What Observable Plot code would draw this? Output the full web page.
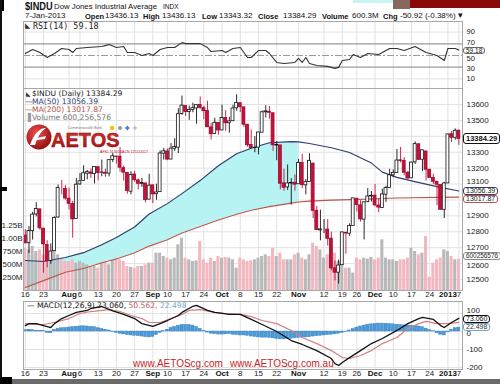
<!DOCTYPE html>
<html><head><meta charset="utf-8">
<script src="https://cdn.jsdelivr.net/npm/d3@7"></script>
<script src="https://cdn.jsdelivr.net/npm/@observablehq/plot@0.6"></script>
<style>
body{margin:0;background:#fff;}
#wrap{position:relative;width:500px;height:384px;overflow:hidden;background:#fff;font-family:"Liberation Sans",Arial,sans-serif;color:#111;}
#wrap svg{position:absolute;left:0;background:transparent !important;overflow:visible;}
.t{position:absolute;white-space:nowrap;line-height:1;}
.tag{position:absolute;left:463px;padding:0 2px;background:#fff;border:1px solid #555;border-radius:3px;white-space:nowrap;font-family:"Liberation Sans",Arial,sans-serif;}
.deco{position:absolute;}
</style></head><body><div id="wrap"></div>
<script>
// ---------- DATA ----------
const tradingDays = [
  ["2012-07",[16,17,18,19,20,23,24,25,26,27,30,31]],
  ["2012-08",[1,2,3,6,7,8,9,10,13,14,15,16,17,20,21,22,23,24,27,28,29,30,31]],
  ["2012-09",[4,5,6,7,10,11,12,13,14,17,18,19,20,21,24,25,26,27,28]],
  ["2012-10",[1,2,3,4,5,8,9,10,11,12,15,16,17,18,19,22,23,24,25,26,31]],
  ["2012-11",[1,2,5,6,7,8,9,12,13,14,15,16,19,20,21,23,26,27,28,29,30]],
  ["2012-12",[3,4,5,6,7,10,11,12,13,14,17,18,19,20,21,24,26,27,28,31]],
  ["2013-01",[2,3,4,7]]
];
const open = [12776,12728,12804,12909,12941,12820,12717,12617,12678,12890,
13073,13070,13008,12974,12880,13098,13119,13165,13173,13163,
13206,13171,13171,13166,13251,13273,13272,13200,13170,13052,
13160,13123,13101,13104,13002,13092,13036,13049,13291,13305,
13254,13322,13329,13540,13591,13552,13565,13575,13597,13577,
13559,13456,13414,13484,13437,13515,13482,13495,13576,13608,
13582,13473,13346,13327,13329,13423,13551,13555,13545,13342,
13343,13104,13079,13103,13108,13099,13232,13092,13113,13229,
12932,12809,12815,12814,12757,12570,12543,12590,12794,12788,
12837,13008,12966,12876,12986,13022,13027,12965,12950,13033,
13075,13155,13170,13249,13246,13171,13136,13236,13350,13253,
13305,13190,13138,13114,13095,12938,13104,13413,13391,13436];
const high = [12813,12833,12922,12983,12941,12820,12744,12724,12894,13094,
13123,13091,13074,12991,13135,13166,13215,13185,13195,13208,
13206,13251,13194,13254,13292,13274,13330,13213,13170,13178,
13180,13132,13135,13104,13161,13092,13099,13308,13324,13320,
13354,13385,13573,13653,13591,13590,13609,13597,13648,13590,
13621,13480,13513,13485,13596,13561,13520,13595,13661,13608,
13582,13473,13440,13398,13425,13559,13592,13588,13545,13368,
13343,13194,13220,13134,13158,13255,13287,13128,13290,13229,
12960,12936,12877,12877,12798,12617,12622,12797,12794,12850,
13010,13008,12995,12986,13071,13053,13097,13009,13068,13087,
13193,13189,13317,13330,13267,13179,13237,13365,13351,13313,
13305,13190,13161,13114,13095,13111,13413,13430,13447,13436];
const low = [12725,12664,12748,12894,12810,12540,12574,12596,12678,12886,
13032,12999,12937,12760,12880,13091,13119,13127,13135,13101,
13121,13146,13143,13145,13235,13226,13174,13119,13036,13032,
13112,13064,13079,12982,13002,12977,12998,13049,13251,13247,
13254,13305,13292,13532,13524,13501,13548,13476,13570,13505,
13456,13376,13413,13407,13437,13431,13420,13495,13558,13550,
13456,13331,13321,13297,13283,13423,13516,13508,13305,13247,
13063,13055,13060,12968,13055,13099,13071,13032,13113,12883,
12807,12743,12789,12711,12555,12492,12471,12590,12659,12771,
12837,12924,12861,12749,12986,12987,12957,12920,12948,12985,
13075,13140,13170,13233,13152,13125,13136,13224,13251,13179,
13119,13138,13096,12964,12937,12884,13104,13361,13376,13343];
const close = [12727,12805,12908,12943,12822,12721,12617,12676,12887,13075,
13073,13009,12976,12878,13096,13117,13168,13175,13165,13207,
13169,13172,13165,13250,13275,13271,13203,13172,13057,13157,
13124,13102,13107,13000,13090,13035,13047,13292,13306,13254,
13323,13333,13539,13593,13553,13565,13577,13596,13579,13558,
13457,13413,13485,13437,13515,13482,13494,13575,13610,13583,
13473,13344,13326,13328,13424,13551,13557,13548,13344,13345,
13102,13077,13104,13107,13096,13232,13093,13112,13246,12932,
12811,12815,12815,12756,12570,12543,12588,12796,12789,12836,
13010,12968,12878,12985,13022,13026,12966,12952,13035,13075,
13155,13170,13248,13245,13171,13135,13235,13351,13252,13312,
13190,13139,13114,13096,12938,13104,13412,13391,13435,13384];
const volumeM = [814,782,846,750,782,686,718,750,782,686,
590,558,558,590,526,558,526,494,462,462,
430,526,558,494,590,622,590,558,462,443,
430,462,462,494,526,526,718,718,654,622,
590,622,878,1006,622,590,558,571,942,590,
526,622,558,654,622,635,622,590,430,622,
590,558,571,590,622,654,686,654,814,654,
718,590,590,590,686,718,622,590,686,910,
846,782,622,686,782,718,558,494,430,430,
334,622,590,622,603,635,590,622,974,622,
590,590,558,590,590,622,814,750,686,718,
1038,254,526,590,622,782,750,654,590,600];
// moving averages (sampled day index)
const maIdx = [0,5,11,16,21,25,30,34,39,43,48,53,58,62,67,73,75,78,84,89,95,98,102,106,113,119];
const ma50  = [12620,12613,12638,12669,12718,12764,12830,12912,12977,13040,13122,13215,13290,13325,13360,13367,13365,13355,13328,13298,13232,13175,13142,13120,13084,13056];
const ma200 = [12450,12493,12546,12569,12605,12629,12668,12710,12750,12793,12833,12874,12910,12935,12958,12980,12987,12993,12999,13002,13006,13009,13012,13014,13016,13018];
const shadeEndDay = 75;
// RSI(14)
const rsiIdx = [0,2,4,6,8,10,12,13,14,17,21,23,25,27,28,30,32,34,35,37,39,41,43,44,46,48,50,51,54,55,57,59,61,62,64,66,67,69,71,74,75,76,77,78,80,83,85,86,87,89,90,92,94,97,98,100,102,104,107,109,110,113,115,116,118,119];
const rsiVal = [53.4,60.2,55.1,46.6,53.4,61.9,60.2,55.1,61.9,63.6,65.3,68.6,63.6,65.3,55.1,55.1,50,53.4,50,60.2,63.6,63.6,72,70.3,70.3,70.3,63.6,56.8,58.5,55.1,61.9,63.6,46.6,46.6,58.5,58.5,53.4,38.1,36.4,38.1,44.9,38.1,46.6,36.4,33,31.4,28,29.7,41.5,43.2,51.7,46.6,53.4,51.7,55.1,61.9,61.9,58.5,65.3,58.5,55.1,50,41.5,61.9,61.9,59.2];
// MACD(12,26,9)
const macdIdx = [0,1,3,5,7,8,10,12,14,17,18,21,24,27,30,32,35,37,39,42,43,46,47,50,52,56,59,62,65,69,73,76,80,84,85,86,87,89,92,95,98,102,105,108,109,112,114,115,117,119];
const macdVal = [33,44,44,33,22,44,72,89,106,117,128,139,115,95,72,44,28,44,61,89,106,140,145,117,106,95,95,67,39,0,-50,-72,-106,-150,-178,-189,-172,-145,-106,-67,-39,6,44,72,78,67,33,22,50,73];
const sigIdx = [0,2,5,8,12,15,18,21,23,26,29,32,34,37,40,43,45,48,52,55,59,62,65,69,73,76,80,84,87,89,92,95,98,102,105,108,110,113,116,119];
const sigVal = [44,39,39,50,72,100,111,117,122,111,89,72,50,50,72,95,117,122,106,100,95,83,61,44,6,-33,-67,-106,-145,-150,-133,-106,-67,-33,17,44,56,44,44,51];
const histVal = [8,10,8, 5,4,3, -8,-10, 10,15,18,20, 22,25,27,28,29,28,26,24, 18,14,10,6,
 -4,-8,-12,-16,-20,-22,-24,-26,-28,-32,-33,-30, -20,-8,2,10, 20,26,32,36,37,36,33,25,
 15,4,-6,-12,-15,-17,-17,-16,-15, -18,-20,-22,-22,-24, -28,-30,-33,-34,-34,-36,-38,
 -42,-44,-44,-42, -40,-38,-36,-34,-33,-32, -28,-26,-24,-22,-20,-18,-16,-12,-8,-3,
 6,14,22,28,33,37,40,42,44,44,43,42,40, 38,36,34,33,32,30,28, 24,16,8,2, -10,-18,-22, -5,10,18,22];
// axis ticks
const tickDates = ["2012-07-16","2012-07-23","2012-08-01","2012-08-06","2012-08-13","2012-08-20","2012-08-27","2012-09-04","2012-09-10","2012-09-17","2012-09-24","2012-10-01","2012-10-08","2012-10-15","2012-10-22","2012-11-01","2012-11-12","2012-11-19","2012-11-26","2012-12-03","2012-12-10","2012-12-17","2012-12-24","2013-01-02","2013-01-07"];
const tickText  = ["16","23","Aug","6","13","20","27","Sep","10","17","24","Oct","8","15","22","Nov","12","19","26","Dec","10","17","24","2013","7"];
const tickBold  = [0,0,1,0,0,0,0,1,0,0,0,1,0,0,0,1,0,0,0,1,0,0,0,1,0];
const priceGrid = [12500,12600,12700,12800,12900,13000,13100,13200,13300,13400,13500,13600];
const priceTicks = [12500,12600,12700,12800,12900,13100,13200,13300,13500,13600];
const volTicks = [250,500,750,1000,1250];
const rsiTicks = [90,70,50,30,10];
const macdTicks = [100,0,-100,-200];

// ---------- BUILD ----------
const dates = tradingDays.flatMap(([m,ds]) => ds.map(d => m + "-" + String(d).padStart(2,"0")));
const rows = dates.map((d,i) => ({i, date:d, o:open[i], h:high[i], l:low[i], c:close[i], v:volumeM[i], hist:histVal[i],
  up: close[i] >= (i ? close[i-1] : open[i]), hollow: close[i] > open[i]}));
const maRows = maIdx.map((i,k) => ({i, ma50:ma50[k], ma200:ma200[k]}));
const rsiRows = rsiIdx.map((i,k) => ({i, v:rsiVal[k]}));
const macdRows = macdIdx.map((i,k) => ({i, v:macdVal[k]}));
const sigRows = sigIdx.map((i,k) => ({i, v:sigVal[k]}));
const tickRows = tickDates.map((d,k) => ({i: dates.indexOf(d), t: tickText[k], bold: !!tickBold[k]}));
const tickIdx = tickRows.map(d => d.i);

const RED = "#c8103c", INK = "#111", GRID = "#e2e2e2", FRAME = "#a8a8a8";
const xDom = [-0.5, 120];
const FONT = "Liberation Sans, Arial, sans-serif";
const wrap = document.getElementById("wrap");
const common = {width:500, marginLeft:23, marginRight:38, x:{domain:xDom, axis:null},
  style:{background:"transparent", fontFamily:FONT, fontSize:"8px", color:"#222", overflow:"visible"}};
function mount(svg, top){ svg.style.top = top + "px"; wrap.appendChild(svg); return svg; }
function xLabels(){
  return [
    Plot.text(tickRows.filter(d=>!d.bold), {x:"i", text:"t", frameAnchor:"bottom", dy:6, fontSize:8, fill:"#222"}),
    Plot.text(tickRows.filter(d=>d.bold), {x:"i", text:"t", frameAnchor:"bottom", dy:6, fontSize:8, fontWeight:"bold", fill:"#111"})
  ];
}
function rightLabels(ticks, opts){
  return Plot.text(ticks, {y:d=>d, text:d=>String(d), frameAnchor:"right", dx:4, textAnchor:"start", fontSize:8, fill:"#222", ...(opts||{})});
}

// RSI panel
const rsiDom = [-6.4, 108.1];
const rsiTop = 21, rsiH = 67;
const rsiPlot = mount(Plot.plot({...common, height:rsiH, marginTop:0, marginBottom:0,
  y:{domain:rsiDom, axis:null},
  marks:[
    Plot.ruleX(tickIdx, {stroke:GRID}),
    Plot.ruleY([90,10], {stroke:GRID}),
    Plot.ruleY([70,30], {stroke:"#9a9a9a", strokeWidth:1.3}),
    Plot.ruleY([50], {stroke:"#9a9a9a", strokeDasharray:"7,2,2,2"}),
    Plot.line(rsiRows, {x:"i", y:"v", stroke:"#333", strokeWidth:1.1}),
    rightLabels([90], {fontSize:7.5}),
    rightLabels([70], {fontSize:7.5, dy:-1.5}),
    rightLabels([50], {fontSize:7.5, dy:3.5}),
    rightLabels([30], {fontSize:7.5, dy:1}),
    rightLabels([10], {fontSize:7.5}),
    Plot.frame({stroke:FRAME})
  ]}), rsiTop);

// Price panel (3 layers)
const pTop = 88, pH = 214, pMB = 12;
const priceDom = [12431, 13700.6];
const volDom = [0, 3885];
mount(Plot.plot({...common, height:pH, marginTop:0, marginBottom:pMB,
  y:{domain:priceDom, axis:null},
  marks:[
    Plot.ruleX(tickIdx, {stroke:GRID}),
    Plot.ruleY(priceGrid, {stroke:GRID}),
    Plot.areaY(maRows.filter(d=>d.i<=shadeEndDay), {x:"i", y1:"ma200", y2:"ma50", fill:"#b8f3f3"})
  ]}), pTop);
const volPlot = mount(Plot.plot({...common, height:pH, marginTop:0, marginBottom:pMB,
  y:{domain:volDom, axis:null},
  marks:[
    Plot.rectY(rows.filter(d=>d.up), {x1:d=>d.i-0.42, x2:d=>d.i+0.42, y:"v", fill:"#b9b9b9"}),
    Plot.rectY(rows.filter(d=>!d.up), {x1:d=>d.i-0.42, x2:d=>d.i+0.42, y:"v", fill:"#f3b7bf"}),
    Plot.text(volTicks, {y:d=>d, text:d=> d>=1000 ? (d/1000).toFixed(2)+"B" : d+"M", frameAnchor:"left", dx:-1, textAnchor:"end", fontSize:8, fill:"#222"})
  ]}), pTop);
const pricePlot = mount(Plot.plot({...common, height:pH, marginTop:0, marginBottom:pMB,
  y:{domain:priceDom, axis:null},
  marks:[
    Plot.line(maRows, {x:"i", y:"ma200", stroke:"#b5564e", strokeWidth:1.1}),
    Plot.line(maRows, {x:"i", y:"ma50", stroke:"#2f3f6e", strokeWidth:1.1}),
    Plot.ruleX(rows.filter(d=>d.up), {x:"i", y1:"l", y2:"h", stroke:INK, strokeWidth:0.9}),
    Plot.ruleX(rows.filter(d=>!d.up), {x:"i", y1:"l", y2:"h", stroke:RED, strokeWidth:0.9}),
    Plot.rect(rows.filter(d=>d.hollow), {x1:d=>d.i-0.4, x2:d=>d.i+0.4, y1:"o", y2:"c", fill:"#fff", stroke:d=>d.up?INK:RED, strokeWidth:0.8}),
    Plot.rect(rows.filter(d=>!d.hollow && d.up), {x1:d=>d.i-0.4, x2:d=>d.i+0.4, y1:"o", y2:"c", fill:INK, stroke:INK, strokeWidth:0.8}),
    Plot.rect(rows.filter(d=>!d.hollow && !d.up), {x1:d=>d.i-0.4, x2:d=>d.i+0.4, y1:"o", y2:"c", fill:RED, stroke:"#9c0a2c", strokeWidth:0.8}),
    rightLabels(priceTicks.filter(d=>d!==12600 && d!==13100)),
    rightLabels([12600], {dy:2}),
    rightLabels([13100], {dy:-2.5}),
    ...xLabels(),
    Plot.frame({stroke:FRAME})
  ]}), pTop);

// MACD panel
const mTop = 301, mH = 83, mMB = 15;
const macdDom = [-211, 166.7];
const macdPlot = mount(Plot.plot({...common, height:mH, marginTop:0, marginBottom:mMB,
  y:{domain:macdDom, axis:null},
  marks:[
    Plot.ruleX(tickIdx, {stroke:GRID}),
    Plot.ruleY(macdTicks, {stroke:GRID}),
    Plot.rectY(rows, {x1:d=>d.i-0.42, x2:d=>d.i+0.42, y:"hist", fill:"#4b9ad8", stroke:"#2f7dbf", strokeWidth:0.4}),
    Plot.line(sigRows, {x:"i", y:"v", stroke:"#d08080", strokeWidth:1.2}),
    Plot.line(macdRows, {x:"i", y:"v", stroke:"#111", strokeWidth:1.3}),
    rightLabels([100], {dy:-3}),
    rightLabels([0], {dy:2}),
    rightLabels([-100,-200]),
    ...xLabels(),
    Plot.frame({stroke:FRAME})
  ]}), mTop);

// ---------- TEXT / DECORATION ----------
function T(txt, left, top, css){ const e=document.createElement("div"); e.className="t"; e.textContent=txt;
  e.style.left=left+"px"; e.style.top=top+"px"; Object.assign(e.style, css||{}); wrap.appendChild(e); return e; }
function D(left, top, w, h, bg){ const e=document.createElement("div"); e.className="deco";
  Object.assign(e.style,{left:left+"px",top:top+"px",width:w+"px",height:h+"px",background:bg}); wrap.appendChild(e); }
function scaleY(svg, dom, top, h, mb, v){
  try { const s = svg.scale("y"); if (s && s.apply) return top + s.apply(v); } catch(e) {}
  return top + d3.scaleLinear().domain(dom).range([h-mb, 0])(v);
}
// y = centre of the tag, h = inner height, fs = font size
function tag(txt, y, border, color, h, fs, css){
  const e=document.createElement("div"); e.className="tag"; e.textContent=txt;
  Object.assign(e.style, {top:(y - h/2 - 1)+"px", height:h+"px", lineHeight:h+"px", fontSize:fs+"px", borderColor:border, color:color||"#111"}, css||{});
  wrap.appendChild(e); return e; }

// header
T("$INDU", 25, 1, {fontWeight:"bold", fontSize:"11.5px", transform:"scaleX(0.8)", transformOrigin:"0 0"});
T("Dow Jones Industrial Average", 54, 3, {fontSize:"7.8px"});
T("INDX", 163, 4, {fontSize:"6.5px"});
const hv = {fontSize:"8px"}, hb = {fontSize:"7.5px", fontWeight:"bold"};
T("7-Jan-2013", 25, 12, hv);
T("Open", 85, 12.5, hb); T("13436.13", 105, 12, hv);
T("High", 143, 12.5, hb); T("13436.13", 162, 12, hv);
T("Low", 202, 12.5, hb); T("13343.32", 219, 12, hv);
T("Close", 258, 12.5, hb); T("13384.29", 283, 12, hv);
T("Volume", 322, 12.5, hb); T("600.3M", 352, 12, hv);
T("Chg", 383, 12.5, hb); T("-50.92 (-0.38%)", 400, 12, hv);
T("\u25BE", 458, 11, {fontSize:"9px"});

// panel legends
const mono = {fontFamily:"DejaVu Sans, Verdana, sans-serif", fontSize:"7.6px", color:"#222"};
T("\u25E3", 25, 22, {fontSize:"7px", color:"#333"});
T("RSI(14) 59.18", 33, 22, {...mono, fontFamily:"DejaVu Sans Mono, monospace", fontSize:"8.4px"});
T("\u25E3", 26, 91, {fontSize:"6px", color:"#333"});
T("$INDU (Daily) 13384.29", 32, 90, mono);
T("\u2014", 25, 98, {...mono, color:"#2f3f6e"}); T("MA(50) 13056.39", 32, 98, {...mono, color:"#2f3f6e"});
T("\u2014", 25, 106, {...mono, color:"#b5564e"}); T("MA(200) 13017.87", 32, 106, {...mono, color:"#b5564e"});
T("\u2590", 25, 114, {...mono, color:"#999"}); T("Volume 600,256,576", 32, 114, {...mono, color:"#777"});
const mline = T("", 27, 302, mono);
mline.innerHTML = '<span style="color:#111">\u2014 MACD(12,26,9) 73.060, </span><span style="color:#c06060">50.562, </span><span style="color:#7aa6c8">22.498</span>';

// value tags
tag("59.18", scaleY(rsiPlot, rsiDom, rsiTop, rsiH, 0, 59.18) + 1, "#666", "#222", 5, 6.5);
tag("13384.29", scaleY(pricePlot, priceDom, pTop, pH, pMB, 13384.29), "#111", "#111", 9, 7.5, {fontWeight:"bold"});
const yMa50 = scaleY(pricePlot, priceDom, pTop, pH, pMB, 13056.39) + 0.5;
tag("13056.39", yMa50, "#2f3f6e", "#222", 6, 7);
tag("13017.87", Math.max(yMa50 + 8, scaleY(pricePlot, priceDom, pTop, pH, pMB, 13017.87)), "#b5564e", "#222", 6, 7);
tag("600256576", scaleY(volPlot, volDom, pTop, pH, pMB, 600.26) - 2.5, "#888", "#222", 6, 6.4);
tag("73.060", scaleY(macdPlot, macdDom, mTop, mH, mMB, 73.06) + 1, "#111", "#111", 6, 7);
tag("22.498", scaleY(macdPlot, macdDom, mTop, mH, mMB, 73.06) + 9, "#7aa6c8", "#333", 6, 7);

// logo
const logo = document.createElementNS("http://www.w3.org/2000/svg","svg");
logo.setAttribute("width","115"); logo.setAttribute("height","34");
logo.style.left="24px"; logo.style.top="122px";
logo.innerHTML = `<defs><radialGradient id="lg" cx="40%" cy="35%" r="70%"><stop offset="0" stop-color="#f05050"/><stop offset="1" stop-color="#8e0c10"/></radialGradient>
<linearGradient id="tg" x1="0" y1="0" x2="0" y2="1"><stop offset="0" stop-color="#e0322c"/><stop offset="1" stop-color="#9c1014"/></linearGradient></defs>
<circle cx="15" cy="15" r="12.5" fill="url(#lg)"/>
<path d="M6,23 Q12,6 22,6 Q15,10 11,23 Z" fill="#fff"/><path d="M13,16 L22,14 L21,17 L13,18 Z" fill="#fff"/>
<text x="27" y="25" font-family="Liberation Sans, Arial" font-weight="bold" font-size="20" fill="url(#tg)" stroke="#7a0a0a" stroke-width="0.4">AETOS</text>
<text x="44" y="7" font-family="Liberation Sans, Arial" font-size="3.6" fill="#777">Commonwealth Bank</text>
<circle cx="88" cy="6" r="2.2" fill="#f2c200"/><circle cx="96" cy="6" r="2" fill="#999"/><rect x="101.5" y="4" width="3.5" height="3.5" fill="#3a8fd8" transform="rotate(45 103 6)"/><circle cx="111" cy="6" r="1.8" fill="#bbb"/>
<text x="76" y="30.5" font-family="Liberation Sans, Arial" font-size="3.6" fill="#c0141c">AFSL 313016</text>
<text x="98" y="30.5" font-family="Liberation Sans, Arial" font-size="3.6" fill="#c0141c">ACN 125113117</text>`;
wrap.appendChild(logo);

// watermark
const wm = {fontFamily:"Liberation Sans, Arial", fontSize:"10px", color:"#c62828"};
T("www.AETOScg.com", 133, 359, wm);
T("www.AETOScg.com.au", 230, 359, wm);

// scan/crop artifacts
D(353, 0, 40, 3, "#c9f4f6");
D(393, 0, 17, 9, "#86685c");
D(410, 0, 90, 8, "#8a0a0a");
D(0, 0, 4, 11, "#000");
D(0, 0, 2, 384, "#111");
D(0, 187, 7, 4, "#000");
D(0, 379, 500, 5, "#6a6a6a");
D(0, 377, 12, 7, "#000");
</script>
</body></html>
